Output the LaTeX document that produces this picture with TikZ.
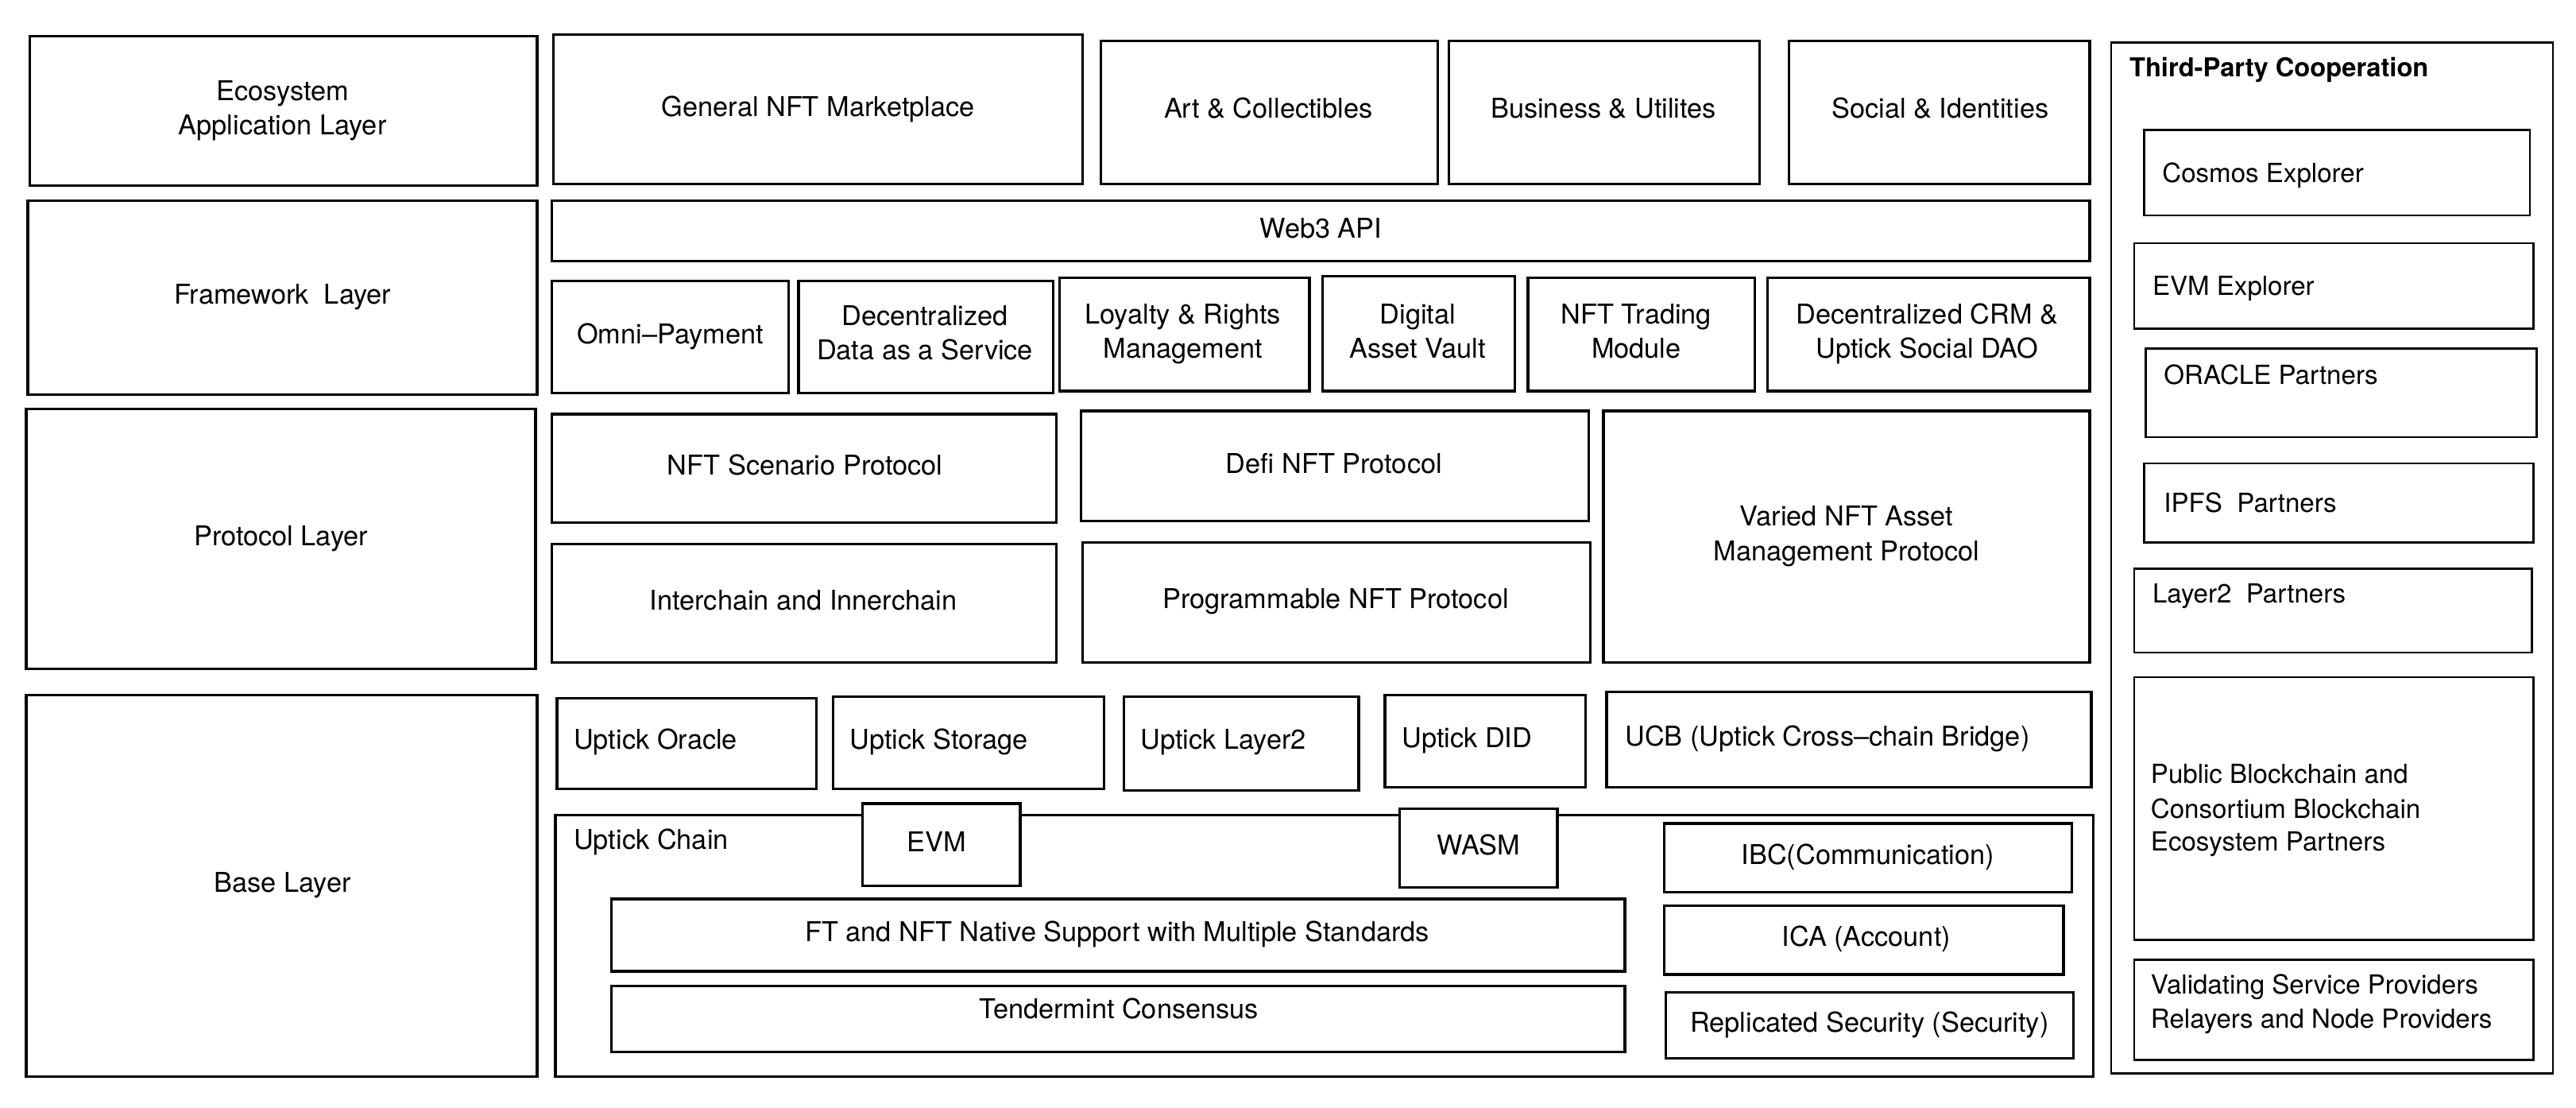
\documentclass[tikz,border=0pt]{standalone}
\usepackage{fontspec}
\setmainfont{TeX Gyre Heros}
\begin{document}
\begin{tikzpicture}[x=1pt,y=-1pt,
  box/.style={draw=black,line width=1.6pt,inner sep=0pt,outer sep=0pt,fill=white},
  rbox/.style={box,line width=1.3pt},
  txt/.style={inner sep=0pt,anchor=base,font=\fontsize{16.6}{19}\selectfont},
  ltxt/.style={txt,anchor=base west},
  rtxt/.style={inner sep=0pt,anchor=base west,font=\fontsize{16}{19}\selectfont},
  ttl/.style={rtxt,font=\fontsize{15.8}{18}\selectfont\bfseries}]
\newcommand\bx[6][box]{\node[#1,minimum width={(#5-#3)*1pt},minimum height={(#6-#4)*1pt}] (#2) at ({(#3+#5)/2},{(#4+#6)/2}) {};}
\newcommand\tx[5][txt]{\node[#1] (#2) at (#3,{#4+6}) {#5};}
\newcommand\rtx[5][rtxt]{\node[#1] (#2) at (#3,{#4+5.8}) {#5};}
\useasboundingbox (0,0) rectangle (1568,674);
\fill[white] (0,0) rectangle (1568,674);
% left column
\bx{eco}{18}{22}{327}{113}
\bx{fw}{17}{122}{327}{240}
\bx{proto}{16}{249}{326}{407}
\bx{base}{16}{423}{327}{655}
\tx{t-eco1}{172}{55}{Ecosystem}
\tx{t-eco2}{172}{76}{Application Layer}
\tx{t-fw}{172}{179}{Framework\ \ Layer}
\tx{t-proto}{171}{326}{Protocol Layer}
\tx{t-base}{172}{537}{Base Layer}
% application row
\bx{gnm}{337}{21}{659}{112}
\bx{art}{670}{25}{875}{112}
\bx{bus}{882}{25}{1071}{112}
\bx{soc}{1089}{25}{1272}{112}
\tx{t-gnm}{498}{65}{General NFT Marketplace}
\tx{t-art}{772}{66}{Art \& Collectibles}
\tx{t-bus}{976}{66}{Business \& Utilites}
\tx{t-soc}{1181}{66}{Social \& Identities}
% framework
\bx{web3}{336}{122}{1272}{159}
\tx{t-web3}{804}{139}{Web3 API}
\bx{omni}{336}{171}{480}{239}
\bx{ddas}{486}{171}{641}{239}
\bx{loy}{645}{169}{797}{238}
\bx{dav}{805}{168}{922}{238}
\bx{ntm}{930}{169}{1068}{238}
\bx{crm}{1076}{169}{1272}{238}
\tx{t-omni}{408}{203}{Omni–Payment}
\tx{t-ddas1}{563}{192}{Decentralized}
\tx{t-ddas2}{563}{213}{Data as a Service}
\tx{t-loy1}{720}{191}{Loyalty \& Rights}
\tx{t-loy2}{720}{212}{Management}
\tx{t-dav1}{863}{191}{Digital}
\tx{t-dav2}{863}{212}{Asset Vault}
\tx{t-ntm1}{996}{191}{NFT Trading}
\tx{t-ntm2}{996}{212}{Module}
\tx{t-crm1}{1173}{191}{Decentralized CRM \&}
\tx{t-crm2}{1173}{212}{Uptick Social DAO}
% protocol
\bx{nsp}{336}{252}{643}{318}
\bx{dnp}{658}{250}{967}{317}
\bx{var}{976}{250}{1272}{403}
\bx{inter}{336}{331}{643}{403}
\bx{pnp}{659}{330}{968}{403}
\tx{t-nsp}{490}{283}{NFT Scenario Protocol}
\tx{t-dnp}{812}{282}{Defi NFT Protocol}
\tx{t-var1}{1124}{314}{Varied NFT Asset}
\tx{t-var2}{1124}{335}{Management Protocol}
\tx{t-inter}{489}{365}{Interchain and Innerchain}
\tx{t-pnp}{813}{364}{Programmable NFT Protocol}
% base
\bx{orc}{339}{425}{497}{480}
\bx{sto}{507}{424}{672}{480}
\bx{l2}{684}{424}{827}{481}
\bx{did}{843}{423}{965}{479}
\bx{ucb}{978}{421}{1273}{479}
\tx[ltxt]{t-orc}{349}{450}{Uptick Oracle}
\tx[ltxt]{t-sto}{517}{450}{Uptick Storage}
\tx[ltxt]{t-l2}{694}{450}{Uptick Layer2}
\tx[ltxt]{t-did}{853}{449}{Uptick DID}
\tx[ltxt]{t-ucb}{989}{448}{UCB (Uptick Cross–chain Bridge)}
\bx{chain}{338}{496}{1274}{655}
\tx[ltxt]{t-chain}{349}{511}{Uptick Chain}
\bx{evm}{525}{489}{621}{539}
\bx{wasm}{852}{492}{948}{540}
\tx{t-evm}{570}{512}{EVM}
\tx{t-wasm}{900}{514}{WASM}
\bx{ibc}{1013}{501}{1261}{543}
\bx{ica}{1013}{551}{1256}{593}
\bx{rs}{1014}{604}{1262}{644}
\tx{t-ibc}{1137}{520}{IBC(Communication)}
\tx{t-ica}{1136}{570}{ICA (Account)}
\tx{t-rs}{1138}{622}{Replicated Security (Security)}
\bx{ft}{372}{547}{989}{591}
\bx{tdm}{372}{600}{989}{640}
\tx{t-ft}{680}{567}{FT and NFT Native Support with Multiple Standards}
\tx{t-tdm}{681}{614}{Tendermint Consensus}
% third party
\bx[rbox]{tpc}{1285}{26}{1554}{653}
\rtx[ttl]{t-tpc}{1296}{41}{Third-Party Cooperation}
\bx[rbox]{cos}{1305}{79}{1540}{131}
\bx[rbox]{evmx}{1299}{148}{1542}{200}
\bx[rbox]{orp}{1306}{212}{1544}{266}
\bx[rbox]{ipfs}{1305}{282}{1542}{330}
\bx[rbox]{l2p}{1299}{346}{1541}{397}
\bx[rbox]{pub}{1299}{412}{1542}{572}
\bx[rbox]{val}{1299}{584}{1542}{645}
\rtx{t-cos}{1316}{105}{Cosmos Explorer}
\rtx{t-evmx}{1310}{174}{EVM Explorer}
\rtx{t-orp}{1317}{228}{ORACLE Partners}
\rtx{t-ipfs}{1317}{306}{IPFS\ \ Partners}
\rtx{t-l2p}{1310}{361}{Layer2\ \ Partners}
\rtx{t-pub1}{1309}{471}{Public Blockchain and}
\rtx{t-pub2}{1309}{492}{Consortium Blockchain}
\rtx{t-pub3}{1309}{512}{Ecosystem Partners}
\rtx{t-val1}{1309}{599}{Validating Service Providers}
\rtx{t-val2}{1309}{620}{Relayers and Node Providers}
\end{tikzpicture}
\end{document}
